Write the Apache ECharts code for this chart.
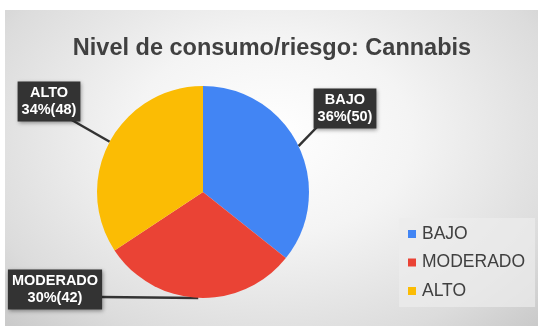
<!DOCTYPE html>
<html><head><meta charset="utf-8">
<script src="https://cdn.jsdelivr.net/npm/echarts@6/dist/echarts.min.js"></script>
<style>
html,body{margin:0;padding:0;background:#fff;width:544px;height:326px;overflow:hidden}
#bg{position:absolute;left:5px;top:10px;width:533px;height:316px;
background:radial-gradient(ellipse 75% 90% at 50% 40%, #ffffff 0%, #f4f4f4 35%, #dcdcdc 75%, #c4c4c4 100%);}
#main{position:absolute;left:0;top:0;width:544px;height:326px}
</style></head>
<body><div id="bg"></div><div id="main"></div>
<script>
const title = 'Nivel de consumo/riesgo: Cannabis';
const categories = ['BAJO', 'MODERADO', 'ALTO'];
const values = [50, 42, 48];
const percents = ['36%', '30%', '34%'];
const colors = ['#4285f4', '#ea4335', '#fbbc04'];

// label box centres and the point on the box where the pointer starts (styling)
const labelPos = [[345, 108.5], [55, 289.5], [49, 101.5]];
const pointerFrom = [[318, 126], [101, 297], [70, 119]];

const chart = echarts.init(document.getElementById('main'), null, {renderer: 'canvas'});
chart.setOption({
  animation: false,
  title: {text: title, left: 'center', top: 32,
    textStyle: {fontFamily: 'Liberation Sans, Arial', fontSize: 23.5, fontWeight: 'bold', color: '#404040'}},
  legend: {orient: 'vertical', left: 399, top: 218,
    itemWidth: 8, itemHeight: 8, itemGap: 10.5, icon: 'rect',
    backgroundColor: 'rgba(236,236,236,0.7)', padding: [7, 10, 7, 9],
    textStyle: {fontFamily: 'Liberation Sans, Arial', fontSize: 17.5, color: '#404040', padding: [0,0,0,1]},
    data: categories},
  series: [{
    type: 'pie', center: [203, 192], radius: 106, startAngle: 90, clockwise: true,
    color: colors,
    data: categories.map((c, i) => ({name: c, value: values[i]})),
    label: {show: true, position: 'outside',
      formatter: p => p.name + '\n' + percents[p.dataIndex] + '(' + p.value + ')',
      backgroundColor: '#333333', color: '#ffffff', fontWeight: 'bold',
      fontFamily: 'Liberation Sans, Arial', fontSize: 14.5, lineHeight: 17,
      align: 'center', padding: [3, 4, 3, 4],
      shadowColor: 'rgba(0,0,0,0.4)', shadowBlur: 4, shadowOffsetX: 1, shadowOffsetY: 1},
    labelLine: {show: true, length: 10, length2: 10, smooth: false,
      lineStyle: {color: '#333333', width: 2.5}},
    labelLayout: function (params) {
      const i = params.dataIndex;
      const p = labelPos[i];
      const edge = params.labelLinePoints ? params.labelLinePoints[0] : pointerFrom[i];
      return {x: p[0], y: p[1], align: 'center', verticalAlign: 'middle', moveOverlap: null,
        labelLinePoints: [pointerFrom[i], edge, edge]};
    },
    emphasis: {disabled: true}
  }]
});
</script></body></html>
